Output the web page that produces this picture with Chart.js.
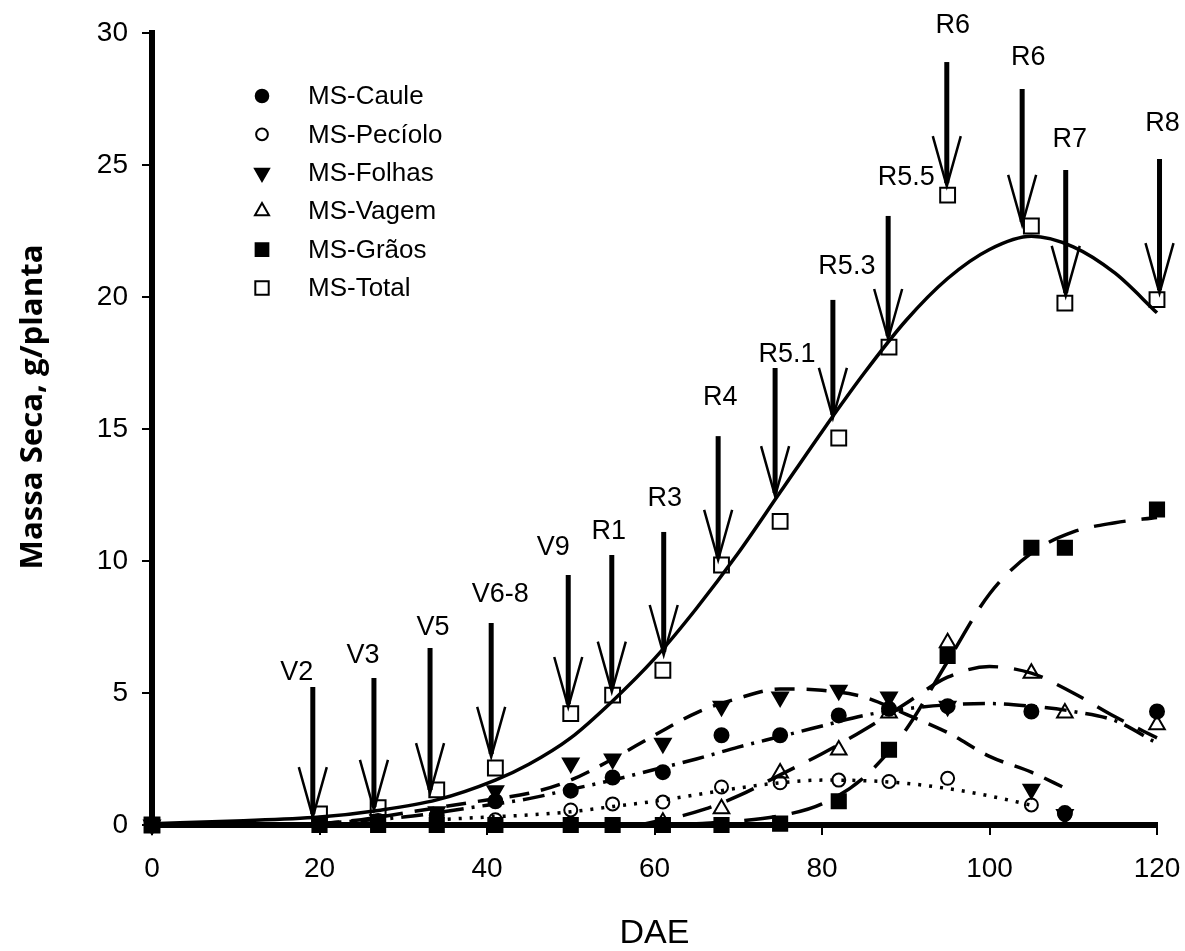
<!DOCTYPE html>
<html lang="pt-BR">
<head>
<meta charset="utf-8">
<title>Massa seca - soja</title>
<script src="https://cdn.jsdelivr.net/npm/chart.js@4.4.1/dist/chart.umd.min.js"></script>
<style>
  html, body { margin: 0; padding: 0; background: #fff; }
  #caixa { width: 1185px; height: 951px; }
</style>
</head>
<body>
<div id="caixa"><canvas id="graficoMassa" width="1185" height="951"></canvas></div>
<script>
// Dias após a emergência (DAE) das coletas
var dias = [0, 20, 27, 34, 41, 50, 55, 61, 68, 75, 82, 88, 95, 105, 109, 120];

// Massa seca medida, g/planta
var msCaule   = [0, 0.05, 0.15, 0.35, 0.9, 1.3, 1.8, 2.0, 3.4, 3.4, 4.15, 4.4, 4.5, 4.3, 0.45, 4.3];
var msPeciolo = [0, 0.02, 0.05, 0.1, 0.2, 0.57, 0.8, 0.87, 1.44, 1.6, 1.7, 1.65, 1.77, 0.76, 0.4, null];
var msFolhas  = [0, 0.1, 0.2, 0.5, 1.3, 2.35, 2.5, 3.1, 4.5, 4.85, 5.1, 4.85, 4.5, 1.35, 0.4, null];
var msVagem   = [null, null, null, null, null, null, null, 0.1, 0.62, 1.97, 2.84, 4.24, 6.9, 5.75, 4.24, 3.8];
var msGraos   = [0, 0, 0, 0, 0, 0, 0, 0, 0, 0.05, 0.9, 2.85, 6.4, 10.5, 10.5, 11.95];
var msTotal   = [0, 0.42, 0.66, 1.33, 2.16, 4.22, 4.92, 5.86, 9.85, 11.5, 14.66, 18.1, 23.86, 22.69, 19.77, 19.9];

// Curvas ajustadas
var diasTotalAj = [0, 10, 20, 27, 34, 41, 45, 50, 55, 60, 65, 70, 75, 80, 85, 90, 95, 100, 105, 110, 115, 120];
var totalAj     = [0.05, 0.15, 0.3, 0.55, 0.95, 1.7, 2.3, 3.3, 4.7, 6.3, 8.2, 10.3, 12.6, 14.9, 17.1, 19.1, 20.7, 21.8, 22.3, 21.9, 20.9, 19.4];

var diasFolhasAj = [20, 25, 30, 35, 40, 45, 50, 55, 60, 65, 70, 75, 80, 85, 90, 95, 100, 105, 109];
var folhasAj     = [0.05, 0.2, 0.45, 0.7, 0.95, 1.2, 1.7, 2.5, 3.4, 4.25, 4.8, 5.15, 5.1, 4.85, 4.2, 3.5, 2.6, 2.0, 1.4];

var diasCauleAj = [20, 30, 40, 45, 50, 55, 60, 65, 70, 75, 80, 85, 90, 95, 100, 105, 110, 115, 120];
var cauleAj     = [0.05, 0.3, 0.75, 1.0, 1.35, 1.7, 2.1, 2.5, 2.95, 3.35, 3.75, 4.15, 4.4, 4.55, 4.6, 4.5, 4.3, 3.95, 3.1];

var diasPecioloAj = [34, 40, 45, 50, 55, 60, 65, 70, 75, 80, 85, 90, 95, 100, 105];
var pecioloAj     = [0.2, 0.3, 0.38, 0.5, 0.7, 0.9, 1.15, 1.4, 1.6, 1.7, 1.68, 1.58, 1.38, 1.1, 0.75];

var diasVagemAj = [58, 62, 66, 70, 75, 80, 85, 90, 95, 100, 105, 110, 115, 120];
var vagemAj     = [0, 0.25, 0.6, 1.1, 1.9, 2.7, 3.6, 4.6, 5.6, 6.0, 5.75, 5.0, 4.1, 3.3];

var diasGraosAj = [65, 70, 75, 80, 85, 90, 95, 100, 105, 110, 115, 120];
var graosAj     = [0.05, 0.15, 0.35, 0.8, 1.8, 3.6, 6.2, 8.75, 10.3, 11.1, 11.45, 11.65];

// Estádios fenológicos (setas)
var estadios   = ['V2', 'V3', 'V5', 'V6-8', 'V9', 'R1', 'R3', 'R4', 'R5.1', 'R5.3', 'R5.5', 'R6', 'R6', 'R7', 'R8'];
var diaEstadio = [19.2, 26.5, 33.2, 40.5, 49.7, 54.9, 61.1, 67.6, 74.4, 81.3, 87.9, 94.9, 103.9, 109.1, 120.3];
var setaTopo   = [5.23, 5.57, 6.70, 7.65, 9.47, 10.23, 11.10, 14.73, 17.31, 19.89, 23.07, 28.90, 27.88, 24.81, 25.23];
var setaPonta  = [0.30, 0.57, 1.21, 2.58, 4.47, 5.05, 6.44, 10.04, 12.46, 15.42, 18.41, 24.2, 22.73, 20.04, 20.15];

// deslocamento dos rótulos em px (dx, acima do topo da seta)
var ajusteRotulo = [[-16, 7], [-11, 15], [3, 13], [9, 21], [-15, 20], [-3, 16], [1, 26], [2, 31],
                    [12, 6], [14, 26], [18, 31], [6, 29], [6, 24], [4, 23], [3, 28]];

function pares(xs, ys) {
    return xs.map(function (x, i) { return {x: x, y: ys[i]}; })
             .filter(function (p) { return p.y !== null; });
}

var series = [
    {nome: 'MS-Caule',   dados: msCaule,   ponto: 'circle',   rot: 0,   raio: 7,    cheio: true,
     dAj: diasCauleAj, vAj: cauleAj, traco: [22, 8, 3, 8]},
    {nome: 'MS-Pecíolo', dados: msPeciolo, ponto: 'circle',   rot: 0,   raio: 6.5,  cheio: false,
     dAj: diasPecioloAj, vAj: pecioloAj, traco: [3, 8]},
    {nome: 'MS-Folhas',  dados: msFolhas,  ponto: 'triangle', rot: 180, raio: 9,    cheio: true,
     dAj: diasFolhasAj, vAj: folhasAj, traco: [20, 12]},
    {nome: 'MS-Vagem',   dados: msVagem,   ponto: 'triangle', rot: 0,   raio: 9,    cheio: false,
     dAj: diasVagemAj, vAj: vagemAj, traco: [30, 16]},
    {nome: 'MS-Grãos',   dados: msGraos,   ponto: 'rect',     rot: 0,   raio: 10,   cheio: true,
     dAj: diasGraosAj, vAj: graosAj, traco: [32, 16]},
    {nome: 'MS-Total',   dados: msTotal,   ponto: 'rect',     rot: 0,   raio: 10.5, cheio: false,
     dAj: diasTotalAj, vAj: totalAj, traco: []}
];

var conjuntos = [];
series.forEach(function (s) {
    conjuntos.push({
        label: s.nome,
        data: pares(dias, s.dados),
        showLine: false,
        pointStyle: s.ponto,
        rotation: s.rot,
        pointRadius: s.raio,
        pointBorderWidth: 2,
        pointBorderColor: '#000',
        pointBackgroundColor: s.cheio ? '#000' : 'rgba(0,0,0,0)',
        clip: false,
        order: 0
    });
});
series.forEach(function (s) {
    conjuntos.push({
        label: s.nome + ' ajuste',
        data: pares(s.dAj, s.vAj),
        showLine: true,
        pointRadius: 0,
        borderColor: '#000',
        borderWidth: 3.5,
        borderDash: s.traco,
        cubicInterpolationMode: 'monotone',
        fill: false,
        clip: false,
        order: 1
    });
});

// setas dos estádios
var setas = {
    id: 'setas',
    afterDatasetsDraw: function (chart) {
        var ctx = chart.ctx, sx = chart.scales.x, sy = chart.scales.y;
        ctx.save();
        ctx.strokeStyle = '#000';
        ctx.fillStyle = '#000';
        ctx.font = '27px "Liberation Sans", Arial, sans-serif';
        ctx.textAlign = 'center';
        ctx.textBaseline = 'alphabetic';
        estadios.forEach(function (nome, i) {
            var px = sx.getPixelForValue(diaEstadio[i]);
            var yTopo = sy.getPixelForValue(setaTopo[i]);
            var yPonta = sy.getPixelForValue(setaPonta[i]);
            ctx.lineWidth = 5;
            ctx.beginPath();
            ctx.moveTo(px, yTopo);
            ctx.lineTo(px, yPonta - 3);
            ctx.stroke();
            ctx.lineWidth = 2.5;
            ctx.beginPath();
            ctx.moveTo(px - 14, yPonta - 50);
            ctx.lineTo(px, yPonta);
            ctx.lineTo(px + 14, yPonta - 50);
            ctx.stroke();
            ctx.fillText(nome, px + ajusteRotulo[i][0], yTopo - ajusteRotulo[i][1]);
        });
        ctx.restore();
    }
};

// legenda e título do eixo y
var legenda = {
    id: 'legenda',
    afterDraw: function (chart) {
        var ctx = chart.ctx;
        ctx.save();
        ctx.font = '26px "Liberation Sans", Arial, sans-serif';
        ctx.textBaseline = 'middle';
        ctx.textAlign = 'left';
        series.forEach(function (s, i) {
            var yy = 96 + i * 38.4;
            ctx.fillStyle = s.cheio ? '#000' : 'rgba(0,0,0,0)';
            ctx.strokeStyle = '#000';
            ctx.lineWidth = 2;
            Chart.helpers.drawPoint(ctx, {pointStyle: s.ponto, rotation: s.rot,
                radius: s.raio * 0.9, borderWidth: 2}, 262, yy);
            ctx.fillStyle = '#000';
            ctx.fillText(s.nome, 308, yy + 1);
        });
        ctx.restore();

        var titulo = 'Massa Seca, g/planta';
        ctx.save();
        ctx.translate(33, 407);
        ctx.rotate(-Math.PI / 2);
        ctx.font = 'bold 30px "Open Sans", sans-serif';
        var w = ctx.measureText(titulo).width;
        ctx.scale(325 / w, 1);
        ctx.fillStyle = '#000';
        ctx.textAlign = 'center';
        ctx.textBaseline = 'middle';
        ctx.fillText(titulo, 0, 0);
        ctx.restore();
    }
};

var fonteEixo = {family: '"Liberation Sans", Arial, sans-serif', size: 28};

var ctx = document.getElementById('graficoMassa').getContext('2d');
new Chart(ctx, {
    type: 'scatter',
    data: {datasets: conjuntos},
    options: {
        responsive: false,
        animation: false,
        layout: {padding: {top: 33, right: 28, left: 0, bottom: 0}},
        plugins: {legend: {display: false}, tooltip: {enabled: false}},
        scales: {
            x: {
                type: 'linear', min: 0, max: 120,
                ticks: {stepSize: 20, color: '#000', font: fonteEixo, padding: 17, maxRotation: 0},
                grid: {display: true, drawOnChartArea: false, drawTicks: true, tickLength: 10,
                       color: '#000', lineWidth: 2},
                border: {display: true, color: '#000', width: 6},
                title: {display: true, text: 'DAE', color: '#000',
                        font: {family: '"Liberation Sans", Arial, sans-serif', size: 34, lineHeight: 1},
                        padding: 0},
                afterFit: function (s) { s.height = 126; s.paddingLeft = 0; s.paddingRight = 0; }
            },
            y: {
                min: 0, max: 30,
                ticks: {stepSize: 5, color: '#000', font: fonteEixo, padding: 14},
                grid: {display: true, drawOnChartArea: false, drawTicks: true, tickLength: 10,
                       color: '#000', lineWidth: 2},
                border: {display: true, color: '#000', width: 6},
                afterFit: function (s) { s.width = 152; s.paddingTop = 0; s.paddingBottom = 0; }
            }
        }
    },
    plugins: [setas, legenda]
});
</script>
</body>
</html>
